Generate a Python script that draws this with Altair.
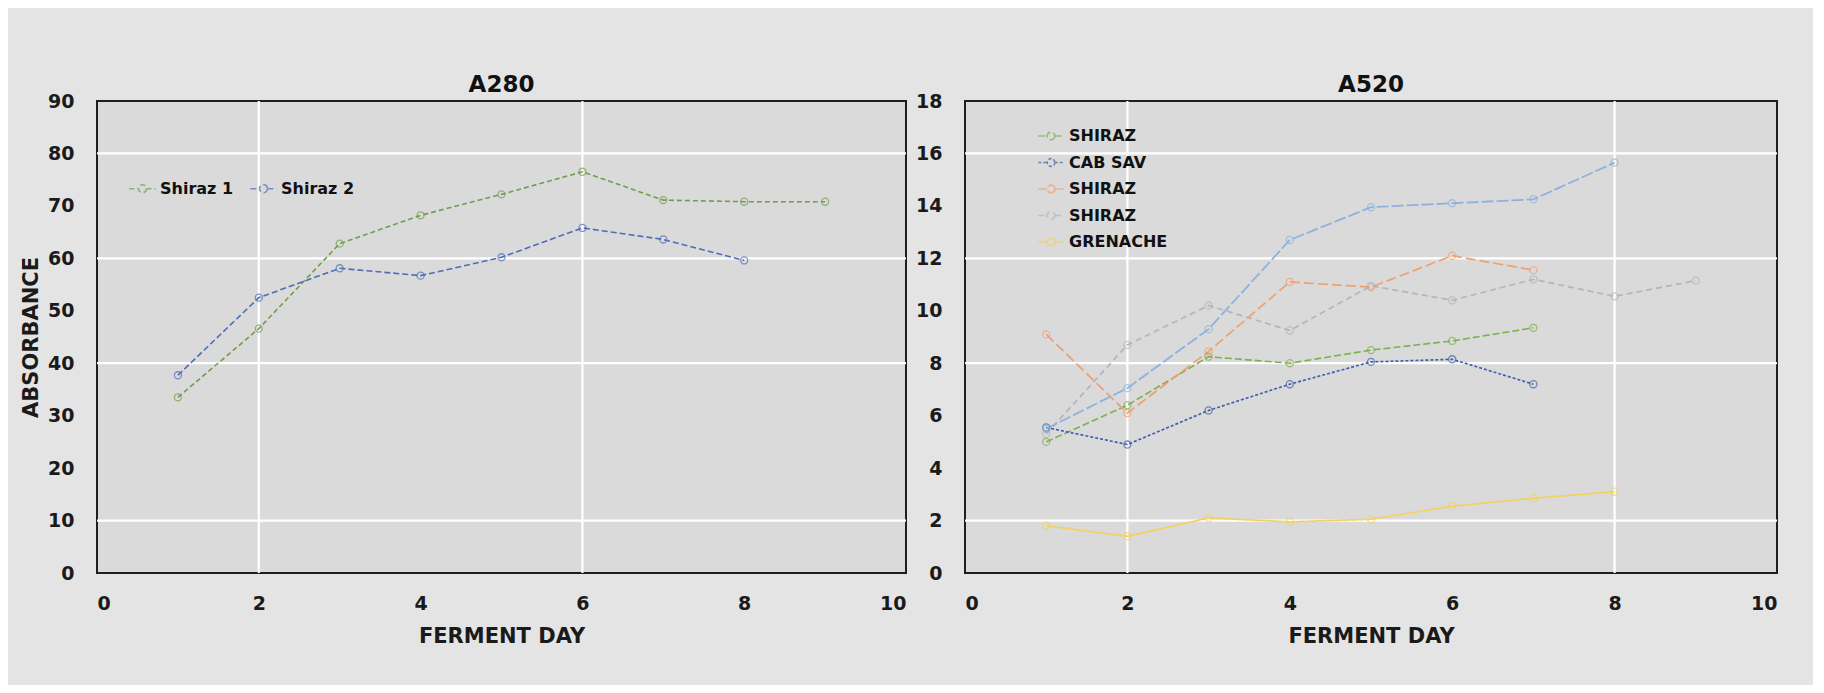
import altair as alt
import pandas as pd

# ---------------- data ----------------
days = [1, 2, 3, 4, 5, 6, 7, 8, 9]

# A280 panel
a280_keys = ["Shiraz 1", "Shiraz 2"]
a280_shiraz1 = [33.5, 46.6, 62.8, 68.2, 72.2, 76.5, 71.1, 70.8, 70.8]
a280_shiraz2 = [37.7, 52.5, 58.1, 56.7, 60.2, 65.8, 63.6, 59.6]

# A520 panel
a520_keys = ["SHIRAZ|1", "CAB SAV|2", "SHIRAZ|3", "SHIRAZ|4", "GRENACHE|5", "SHIRAZ|6"]
a520_shiraz_green = [5.0, 6.4, 8.25, 8.0, 8.5, 8.85, 9.35]
a520_cab_sav = [5.55, 4.9, 6.2, 7.2, 8.05, 8.15, 7.2]
a520_shiraz_orange = [9.1, 6.1, 8.45, 11.1, 10.9, 12.1, 11.55]
a520_shiraz_grey = [5.3, 8.7, 10.2, 9.25, 10.95, 10.4, 11.2, 10.55, 11.15]
a520_grenache = [1.8, 1.4, 2.1, 1.95, 2.05, 2.55, 2.85, 3.1]
a520_shiraz_lightblue = [5.5, 7.05, 9.3, 12.7, 13.95, 14.1, 14.25, 15.65]

x_ticks = [0, 2, 4, 6, 8, 10]
a280_y_ticks = [0, 10, 20, 30, 40, 50, 60, 70, 80, 90]
a520_y_ticks = [0, 2, 4, 6, 8, 10, 12, 14, 16, 18]

# white grid lines visible in the picture
a280_hgrid = [10, 40, 60, 80]
a280_vgrid = [2, 6]
a520_hgrid = [2, 8, 12, 16]
a520_vgrid = [2, 8]


def long_table(keys, series):
    rows = []
    for k, vals in zip(keys, series):
        for d, v in zip(days, vals):
            rows.append({"key": k, "day": d, "value": v})
    return pd.DataFrame(rows)


df280 = long_table(a280_keys, [a280_shiraz1, a280_shiraz2])
df520 = long_table(a520_keys, [a520_shiraz_green, a520_cab_sav, a520_shiraz_orange,
                               a520_shiraz_grey, a520_grenache, a520_shiraz_lightblue])

# ---------------- styling ----------------
FONT = "DejaVu Sans"
a280_colors = ["#6F9E4C", "#4E6DB5"]
a280_dashes = [[5, 3], [6, 3]]
a280_widths = [1.6, 1.6]

a520_colors = ["#7DB04E", "#3E5DAA", "#EFA070", "#B4B4BE", "#F2D264", "#8DB2DE"]
a520_dashes = [[7, 3], [3, 2], [10, 4], [6, 4], [1, 0], [12, 3]]
a520_widths = [1.6, 1.8, 1.6, 1.6, 2.6, 1.8]

SYMBOL = "M-1,0H-0.3M0.3,0H1M0.3,0A0.3,0.3 0 1,1 -0.3,0A0.3,0.3 0 1,1 0.3,0"


def panel(df, keys, colors, dashes, widths, ydom, yticks, hgrid, vgrid,
          title, ytitle, legend, width):
    xs = alt.Scale(domain=[0, 10], nice=False, zero=False)
    ys = alt.Scale(domain=ydom, nice=False)
    cscale = alt.Scale(domain=keys, range=colors)
    xaxis = alt.Axis(values=x_ticks, title="FERMENT DAY", labelPadding=21, titlePadding=12)
    yaxis = alt.Axis(values=yticks, title=ytitle, labelPadding=23, titlePadding=6)

    hg = alt.Chart(pd.DataFrame({"v": hgrid})).mark_rule(
        color="white", strokeWidth=2.2
    ).encode(y=alt.Y("v:Q", scale=ys, axis=yaxis))
    vg = alt.Chart(pd.DataFrame({"v": vgrid})).mark_rule(
        color="white", strokeWidth=2.2
    ).encode(x=alt.X("v:Q", scale=xs, axis=xaxis))

    xenc = alt.X("day:Q", scale=xs, axis=xaxis)
    yenc = alt.Y("value:Q", scale=ys, axis=yaxis)

    lines = alt.Chart(df).mark_line().encode(
        x=xenc, y=yenc,
        color=alt.Color("key:N", scale=cscale, legend=legend),
        strokeDash=alt.StrokeDash("key:N", scale=alt.Scale(domain=keys, range=dashes), legend=None),
        strokeWidth=alt.StrokeWidth("key:N", scale=alt.Scale(domain=keys, range=widths), legend=None),
    )
    pts = alt.Chart(df).mark_point(shape="circle", filled=False, size=50, strokeWidth=1.3).encode(
        x=xenc, y=yenc,
        color=alt.Color("key:N", scale=cscale, legend=legend),
    )
    return alt.layer(hg, vg, lines, pts).properties(
        width=width, height=472,
        title=alt.TitleParams(title, fontSize=23, fontWeight="bold", font=FONT,
                              color="#111111", offset=-5),
    )


legend280 = alt.Legend(
    title="", orient="none", legendX=31, legendY=73,
    direction="horizontal", symbolType=SYMBOL, symbolSize=700,
    symbolStrokeWidth=1.3, symbolFillColor="transparent",
    labelFont=FONT, labelFontSize=16, labelFontWeight="bold", labelColor="#111111",
    columnPadding=13, labelOffset=3,
)

legend520 = alt.Legend(
    title="", orient="none", legendX=72, legendY=21, direction="vertical",
    values=a520_keys[:5], labelExpr="split(datum.label, '|')[0]",
    symbolType=SYMBOL, symbolSize=650, symbolStrokeWidth=1.3,
    symbolFillColor="transparent",
    labelFont=FONT, labelFontSize=16, labelFontWeight="bold", labelColor="#111111",
    rowPadding=4.5, labelOffset=4,
)

left = panel(df280, a280_keys, a280_colors, a280_dashes, a280_widths, [0, 90],
             a280_y_ticks, a280_hgrid, a280_vgrid, "A280", "ABSORBANCE", legend280, 809)
right = panel(df520, a520_keys, a520_colors, a520_dashes, a520_widths, [0, 18],
              a520_y_ticks, a520_hgrid, a520_vgrid, "A520", "", legend520, 812)

chart = alt.hconcat(left, right, spacing=59, bounds="flush").resolve_scale(
    color="independent", strokeDash="independent", strokeWidth="independent",
    x="independent", y="independent",
).properties(
    padding={"left": 11, "top": 65, "right": 33, "bottom": 38},
    background="#e4e4e4",
).configure_view(
    fill="#dadada", stroke="#1e1e1e", strokeWidth=2,
).configure_axis(
    domain=False, ticks=False, grid=False,
    labelFont=FONT, labelFontSize=19, labelFontWeight="bold", labelColor="#1a1a1a",
    titleFont=FONT, titleFontSize=21, titleColor="#1a1a1a", titleFontWeight="bold",
)

chart.save("out.html", embed_options={"renderer": "svg", "actions": False})
